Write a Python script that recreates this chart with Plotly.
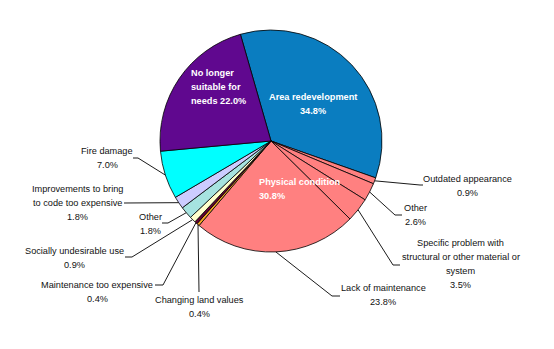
import math
import plotly.graph_objects as go

# ---------------- data ----------------
categories = [
    "Area redevelopment",
    "Outdated appearance",
    "Other (physical condition)",
    "Specific problem with structural or other material or system",
    "Lack of maintenance",
    "Changing land values",
    "Maintenance too expensive",
    "Socially undesirable use",
    "Other",
    "Improvements to bring to code too expensive",
    "Fire damage",
    "No longer suitable for needs",
]
values = [34.8, 0.9, 2.6, 3.5, 23.8, 0.4, 0.4, 0.9, 1.8, 1.8, 7.0, 22.0]
label_lines = [
    None,
    ["Outdated appearance"],
    ["Other"],
    ["Specific problem with", "structural or other material or", "system"],
    ["Lack of maintenance"],
    ["Changing land values"],
    ["Maintenance too expensive"],
    ["Socially undesirable use"],
    ["Other"],
    ["Improvements to bring", "to code too expensive"],
    ["Fire damage"],
    None,
]
physical_group = [1, 2, 3, 4]  # slices that form "Physical condition"

colors = ["#0A7DC0", "#FF8080", "#FF8080", "#FF8080", "#FF8080", "#F5A623",
          "#660033", "#FFFFCC", "#A6E3E0", "#CCCCFF", "#00FFFF", "#60088F"]

# ---------------- layout constants (pixels) ----------------
W, H = 554, 349
CX, CY, R = 271, 141, 111
ROT = -16
FS = 9.2
LH = 14

# label placement: (text center x, first line y, elbow x, elbow y, end x)
placement = {
    1: (467, 179, 420, 185, 423),
    2: (415, 208, 395, 215, 402),
    3: (461, 243, 393, 265, 400),
    4: (383, 288, 332, 296, 340),
    5: (199, 300, 199, 292, 199),
    6: (97, 285, 163, 285, 155),
    7: (74, 251, 132, 257, 125),
    8: (150, 217, 168, 223, 162),
    9: (77, 189, 124, 203, 124),
    10: (107, 151, 138, 158, 133),
}


def px(x):
    return x / W


def py(y):
    return 1 - y / H


fig = go.Figure(go.Pie(
    labels=categories,
    values=values,
    sort=False,
    direction="clockwise",
    rotation=ROT,
    textinfo="none",
    marker=dict(colors=colors, line=dict(color="#000000", width=0.8)),
    domain=dict(x=[px(CX - R), px(CX + R)], y=[py(CY + R), py(CY - R)]),
    showlegend=False,
))

total = sum(values)
annotations = []
shapes = []
cum = 0.0
for i, v in enumerate(values):
    mid = math.radians(ROT + 360.0 * (cum + v / 2) / total)
    cum += v
    if label_lines[i] is None:
        continue
    ex, ey = CX + R * math.sin(mid), CY - R * math.cos(mid)
    tx, ty, bx, by, endx = placement[i]
    shapes.append(dict(
        type="path", xref="paper", yref="paper",
        path=f"M {px(ex)} {py(ey)} L {px(bx)} {py(by)} L {px(endx)} {py(by)}",
        line=dict(color="#000000", width=0.9),
    ))
    lines = label_lines[i] + [f"{v:.1f}%"]
    for k, t in enumerate(lines):
        annotations.append(dict(
            x=px(tx), y=py(ty + k * LH), xref="paper", yref="paper",
            text=t, showarrow=False, xanchor="center", yanchor="middle",
            font=dict(family="Liberation Sans, Arial", size=FS, color="#111111"),
        ))

# inside labels
inside = [
    (313, 97, "center", ["Area redevelopment", f"{values[0]:.1f}%"]),
    (189, 73, "left", ["No longer", "suitable for", f"needs {values[11]:.1f}%"]),
    (257, 182, "left", ["Physical condition",
                        f"{sum(values[j] for j in physical_group):.1f}%"]),
]
for x, y, anc, lines in inside:
    for k, t in enumerate(lines):
        annotations.append(dict(
            x=px(x), y=py(y + k * LH), xref="paper", yref="paper",
            text=f"<b>{t}</b>", showarrow=False, xanchor=anc, yanchor="middle",
            font=dict(family="Liberation Sans, Arial", size=FS, color="#FFFFFF"),
        ))

fig.update_layout(
    width=W, height=H,
    margin=dict(l=0, r=0, t=0, b=0),
    paper_bgcolor="#FFFFFF",
    plot_bgcolor="#FFFFFF",
    annotations=annotations,
    shapes=shapes,
)

fig.write_html("out.html")
